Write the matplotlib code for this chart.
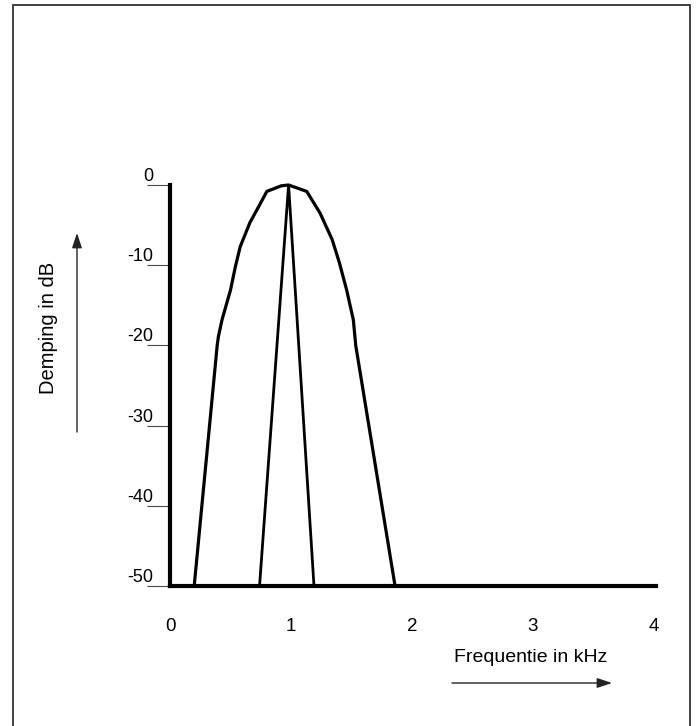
import matplotlib
matplotlib.use('Agg')
import matplotlib.pyplot as plt
from matplotlib.patches import Rectangle

plt.rcParams['font.family'] = ['Liberation Sans', 'DejaVu Sans']

# outer response curve (kHz, dB)
outer_f = [0.20, 0.39, 0.40, 0.43, 0.50, 0.54, 0.58, 0.66, 0.74, 0.80, 0.92, 0.98,
           1.13, 1.24, 1.34, 1.40, 1.46, 1.515, 1.535, 1.86]
outer_db = [-50, -20.0, -18.9, -16.8, -13.1, -10.2, -7.7, -4.7, -2.5, -0.8, -0.1, 0,
            -0.8, -3.5, -6.8, -9.7, -13.1, -16.8, -20.0, -50]

# inner narrow response
inner_f = [0.74, 0.98, 1.19]
inner_db = [-50, 0, -50]

x_ticks = [0, 1, 2, 3, 4]
y_ticks = [0, -10, -20, -30, -40, -50]

W, H = 698, 726
fig = plt.figure(figsize=(W / 100, H / 100), dpi=100)
ax = fig.add_axes([170 / W, 1 - 586 / H, 486 / W, 401 / H])

ax.plot(outer_f, outer_db, color='black', lw=2.3, clip_on=False, solid_joinstyle='round')
ax.plot(inner_f, inner_db, color='black', lw=2.0, clip_on=False, solid_joinstyle='miter')

ax.set_xlim(0, 486 / 121)
ax.set_ylim(-50, 0)

for s in ['top', 'right']:
    ax.spines[s].set_visible(False)
for s in ['left', 'bottom']:
    ax.spines[s].set_linewidth(3.0)
    ax.spines[s].set_capstyle('projecting')

ax.set_xticks(x_ticks)
ax.set_xticklabels([str(v) for v in x_ticks])
ax.set_yticks(y_ticks)
ax.set_yticklabels([str(v) for v in y_ticks])
ax.tick_params(axis='x', length=0, pad=23, labelsize=13.5)
ax.tick_params(axis='y', length=16.5, width=0.8, color='#3f4f45', pad=-4.5, labelsize=13)
for lab in ax.get_yticklabels():
    lab.set_verticalalignment('bottom')

# axis captions and arrows
fig.text(531 / W, 1 - 657 / H, 'Frequentie in kHz', ha='center', va='center', fontsize=14)
fig.text(48 / W, 1 - 328 / H, 'Demping in dB', ha='center', va='center', fontsize=14.5,
         rotation=90)
fig.add_artist(plt.Annotation('', xy=(612 / W, 1 - 683 / H), xytext=(452 / W, 1 - 683 / H),
                              xycoords='figure fraction', textcoords='figure fraction',
                              arrowprops=dict(arrowstyle='-|>,head_length=0.9,head_width=0.3',
                                              color='#222222', lw=1.0, shrinkA=0, shrinkB=0)))
fig.add_artist(plt.Annotation('', xy=(77 / W, 1 - 233 / H), xytext=(77 / W, 1 - 432 / H),
                              xycoords='figure fraction', textcoords='figure fraction',
                              arrowprops=dict(arrowstyle='-|>,head_length=0.9,head_width=0.3',
                                              color='#222222', lw=1.0, shrinkA=0, shrinkB=0)))

# frame around the picture
fig.add_artist(Rectangle((13 / W, -0.05), (690 - 13) / W, 1.05 - 5 / H,
                         transform=fig.transFigure, fill=False, edgecolor='#333333', lw=1.3))

fig.savefig('out.png', dpi=100)
